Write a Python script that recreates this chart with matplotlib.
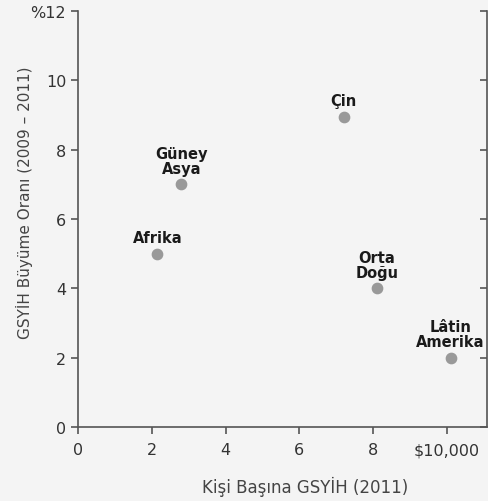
import matplotlib.pyplot as plt

regions = ['Afrika', 'Güney\nAsya', 'Çin', 'Orta\nDoğu', 'Lâtin\nAmerika']
gdp_per_capita = [2.15, 2.8, 7.2, 8.1, 10.1]
growth = [5.0, 7.0, 8.95, 4.0, 2.0]

x_ticks = [0, 2, 4, 6, 8, 10]
x_tick_labels = ['0', '2', '4', '6', '8', '$10,000']
y_ticks = [0, 2, 4, 6, 8, 10, 12]
y_tick_labels = ['0', '2', '4', '6', '8', '10', '%12']

bg = '#f4f4f4'
plt.rcParams['font.family'] = ['DejaVu Sans']

fig = plt.figure(figsize=(4.89, 5.02), dpi=100, facecolor=bg)
ax = fig.add_axes([0.1595, 0.1474, 0.836, 0.8286], facecolor=bg)

ax.scatter(gdp_per_capita, growth, s=55, color='#999999', zorder=3)
for name, x, y in zip(regions, gdp_per_capita, growth):
    ax.annotate(name, (x, y), xytext=(0, 6), textcoords='offset points',
                ha='center', va='bottom', fontsize=10.5, fontweight='bold',
                color='#1a1a1a', linespacing=1.0)

ax.set_xlim(0, 11.08)
ax.set_ylim(0, 12)
ax.set_xticks(x_ticks, x_tick_labels)
ax.set_yticks(y_ticks, y_tick_labels)

ax.spines['top'].set_visible(False)
ax.spines['right'].set_visible(False)
for side in ['left', 'bottom']:
    ax.spines[side].set_color('#555555')
    ax.spines[side].set_linewidth(1.2)

ax.tick_params(axis='both', colors='#555555', labelcolor='#333333',
               labelsize=11.5, length=5, width=1.2)
ax.tick_params(axis='x', pad=6)

# right side: spine with inward ticks, no labels
rax = ax.secondary_yaxis('right')
rax.set_yticks(y_ticks, [])
rax.tick_params(direction='in', length=5, width=1.2, colors='#555555')
rax.spines['right'].set_color('#555555')
rax.spines['right'].set_linewidth(1.2)

ax.set_xlabel('Kişi Başına GSYİH (2011)', fontsize=12, color='#444444')
ax.set_ylabel('GSYİH Büyüme Oranı (2009 – 2011)', fontsize=11, color='#444444')
ax.xaxis.set_label_coords(0.556, -0.118)
ax.yaxis.set_label_coords(-0.11, 0.541)

fig.savefig('out.png', dpi=100, facecolor=bg)
